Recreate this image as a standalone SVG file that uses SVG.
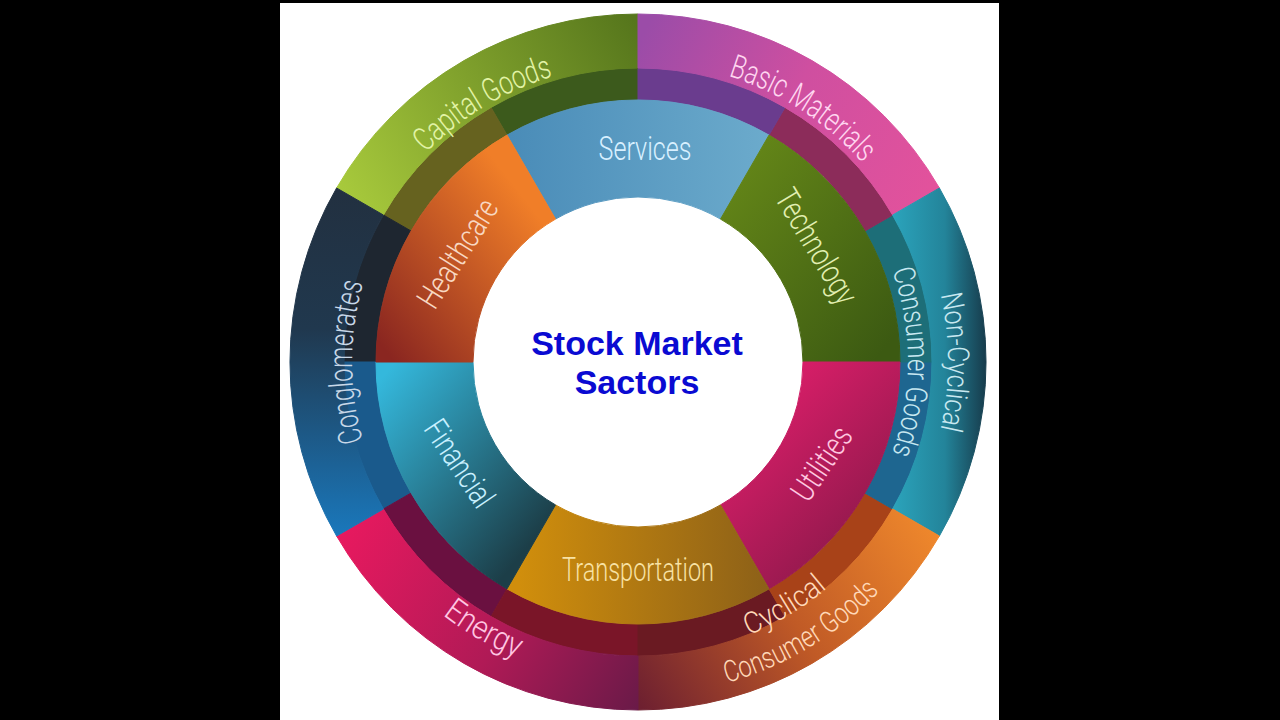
<svg xmlns="http://www.w3.org/2000/svg" width="1280" height="720" viewBox="0 0 1280 720">
<style>
  .lbl{font-family:Roboto,"Liberation Sans",Arial,sans-serif;font-weight:300;font-size:33px;text-anchor:middle;}
  .lbl2{font-family:Roboto,"Liberation Sans",Arial,sans-serif;font-weight:300;font-size:30px;text-anchor:middle;}
  .title{font-family:"Liberation Sans",Arial,sans-serif;font-weight:bold;font-size:34px;fill:#0a0ad2;text-anchor:middle;}
  .seg{stroke-width:1;stroke-linejoin:round;}
</style>
<defs>
  <linearGradient id="gCap" gradientUnits="userSpaceOnUse" x1="350" y1="210" x2="640" y2="30"><stop offset="0" stop-color="#a8ca3c"/><stop offset="1" stop-color="#56761c"/></linearGradient>
  <linearGradient id="gBasic" gradientUnits="userSpaceOnUse" x1="640" y1="40" x2="930" y2="190"><stop offset="0" stop-color="#9b4ca8"/><stop offset="0.5" stop-color="#cf4fa0"/><stop offset="1" stop-color="#e2529c"/></linearGradient>
  <linearGradient id="gNon" gradientUnits="userSpaceOnUse" x1="892" y1="0" x2="988" y2="0"><stop offset="0" stop-color="#2ba4bc"/><stop offset="0.55" stop-color="#23849a"/><stop offset="1" stop-color="#163848"/></linearGradient>
  <linearGradient id="gCyc" gradientUnits="userSpaceOnUse" x1="935" y1="520" x2="640" y2="705"><stop offset="0" stop-color="#f0892c"/><stop offset="0.5" stop-color="#c05a26"/><stop offset="1" stop-color="#6e2030"/></linearGradient>
  <linearGradient id="gEn" gradientUnits="userSpaceOnUse" x1="340" y1="530" x2="640" y2="705"><stop offset="0" stop-color="#e8195f"/><stop offset="0.55" stop-color="#b01a56"/><stop offset="1" stop-color="#6a1a48"/></linearGradient>
  <linearGradient id="gCong" gradientUnits="userSpaceOnUse" x1="0" y1="190" x2="0" y2="536"><stop offset="0" stop-color="#223040"/><stop offset="0.4" stop-color="#20384e"/><stop offset="1" stop-color="#1a78bc"/></linearGradient>
  <linearGradient id="gServ" gradientUnits="userSpaceOnUse" x1="510" y1="0" x2="770" y2="0"><stop offset="0" stop-color="#4a8cb8"/><stop offset="1" stop-color="#6cabcc"/></linearGradient>
  <linearGradient id="gTech" gradientUnits="userSpaceOnUse" x1="720" y1="180" x2="900" y2="330"><stop offset="0" stop-color="#648618"/><stop offset="1" stop-color="#3c5a12"/></linearGradient>
  <linearGradient id="gUtil" gradientUnits="userSpaceOnUse" x1="760" y1="400" x2="900" y2="540"><stop offset="0" stop-color="#d81e68"/><stop offset="1" stop-color="#861848"/></linearGradient>
  <linearGradient id="gTrans" gradientUnits="userSpaceOnUse" x1="520" y1="0" x2="770" y2="0"><stop offset="0" stop-color="#d08e0c"/><stop offset="1" stop-color="#8c6018"/></linearGradient>
  <linearGradient id="gFin" gradientUnits="userSpaceOnUse" x1="380" y1="380" x2="550" y2="520"><stop offset="0" stop-color="#34b8dc"/><stop offset="1" stop-color="#1c3e48"/></linearGradient>
  <linearGradient id="gHealth" gradientUnits="userSpaceOnUse" x1="545" y1="225" x2="385" y2="350"><stop offset="0" stop-color="#f07e28"/><stop offset="1" stop-color="#8a2620"/></linearGradient>
  <path id="pCap" d="M 348.9 289.9 A 298 298 0 0 1 710.1 72.9"/>
  <path id="pBasic" d="M 575.6 68.6 A 300 300 0 0 1 931.4 299.6"/>
  <path id="pCong" d="M 435.8 564.2 A 286 286 0 0 1 435.8 159.8"/>
  <path id="pNon1" d="M 857.2 142.8 A 310 310 0 0 1 857.2 581.2"/>
  <path id="pNon2" d="M 828.9 171.1 A 270 270 0 0 1 828.9 552.9"/>
  <path id="pEn" d="M 328.9 444.8 A 321 321 0 0 0 720.8 671.1"/>
  <path id="pCyc1" d="M 566.6 648.2 A 295 295 0 0 0 924.2 433.4"/>
  <path id="pCyc2" d="M 557.4 685.1 A 333 333 0 0 0 961.1 442.6"/>
</defs>

<rect width="1280" height="720" fill="#000"/>
<rect x="280" y="3" width="719" height="717" fill="#fff"/>

<g id="overlap-band" class="seg">
  <path d="M 491 107.4 A 294 294 0 0 1 638 68 L 638 100 A 262 262 0 0 0 507 135.1 Z" fill="#3c5a1c" stroke="#3c5a1c"/>
  <path d="M 383.4 215 A 294 294 0 0 1 491 107.4 L 507 135.1 A 262 262 0 0 0 411.1 231 Z" fill="#66621f" stroke="#66621f"/>
  <path d="M 344 362 A 294 294 0 0 1 383.4 215 L 411.1 231 A 262 262 0 0 0 376 362 Z" fill="#1e2630" stroke="#1e2630"/>
  <path d="M 383.4 509 A 294 294 0 0 1 344 362 L 376 362 A 262 262 0 0 0 411.1 493 Z" fill="#1a5a8c" stroke="#1a5a8c"/>
  <path d="M 491 616.6 A 294 294 0 0 1 383.4 509 L 411.1 493 A 262 262 0 0 0 507 588.9 Z" fill="#6a1040" stroke="#6a1040"/>
  <path d="M 638 656 A 294 294 0 0 1 491 616.6 L 507 588.9 A 262 262 0 0 0 638 624 Z" fill="#7a1528" stroke="#7a1528"/>
  <path d="M 785 616.6 A 294 294 0 0 1 638 656 L 638 624 A 262 262 0 0 0 769 588.9 Z" fill="#6a1a22" stroke="#6a1a22"/>
  <path d="M 892.6 509 A 294 294 0 0 1 785 616.6 L 769 588.9 A 262 262 0 0 0 864.9 493 Z" fill="#a84218" stroke="#a84218"/>
  <path d="M 932 362 A 294 294 0 0 1 892.6 509 L 864.9 493 A 262 262 0 0 0 900 362 Z" fill="#1e6690" stroke="#1e6690"/>
  <path d="M 892.6 215 A 294 294 0 0 1 932 362 L 900 362 A 262 262 0 0 0 864.9 231 Z" fill="#1d6e78" stroke="#1d6e78"/>
  <path d="M 785 107.4 A 294 294 0 0 1 892.6 215 L 864.9 231 A 262 262 0 0 0 769 135.1 Z" fill="#8c2c5a" stroke="#8c2c5a"/>
  <path d="M 638 68 A 294 294 0 0 1 785 107.4 L 769 135.1 A 262 262 0 0 0 638 100 Z" fill="#6a3c8e" stroke="#6a3c8e"/>
</g>

<g id="capital-goods">
  <path class="seg" d="M 336.6 188 A 348 348 0 0 1 638 14 L 638 68 A 294 294 0 0 0 383.4 215 Z" fill="url(#gCap)" stroke="url(#gCap)"/>
  <text class="lbl" fill="#e2f3a6"><textPath href="#pCap" startOffset="50%" textLength="150" lengthAdjust="spacingAndGlyphs">Capital Goods</textPath></text>
</g>
<g id="basic-materials">
  <path class="seg" d="M 638 14 A 348 348 0 0 1 939.4 188 L 892.6 215 A 294 294 0 0 0 638 68 Z" fill="url(#gBasic)" stroke="url(#gBasic)"/>
  <text class="lbl" fill="#ffd6f0"><textPath href="#pBasic" startOffset="50%" textLength="162" lengthAdjust="spacingAndGlyphs">Basic Materials</textPath></text>
</g>
<g id="non-cyclical-consumer-goods">
  <path class="seg" d="M 939.4 188 A 348 348 0 0 1 939.4 536 L 892.6 509 A 294 294 0 0 0 892.6 215 Z" fill="url(#gNon)" stroke="url(#gNon)"/>
  <text class="lbl2" fill="#c8e8f0"><textPath href="#pNon1" startOffset="50%" textLength="136" lengthAdjust="spacingAndGlyphs">Non-Cyclical</textPath></text>
  <text class="lbl2" fill="#c8e8f0"><textPath href="#pNon2" startOffset="50%" textLength="186" lengthAdjust="spacingAndGlyphs">Consumer Goods</textPath></text>
</g>
<g id="cyclical-consumer-goods">
  <path class="seg" d="M 939.4 536 A 348 348 0 0 1 638 710 L 638 656 A 294 294 0 0 0 892.6 509 Z" fill="url(#gCyc)" stroke="url(#gCyc)"/>
  <text class="lbl2" fill="#ffd8b8"><textPath href="#pCyc1" startOffset="50%" textLength="92" lengthAdjust="spacingAndGlyphs">Cyclical</textPath></text>
  <text class="lbl2" fill="#ffd8b8"><textPath href="#pCyc2" startOffset="50%" textLength="180" lengthAdjust="spacingAndGlyphs">Consumer Goods</textPath></text>
</g>
<g id="energy">
  <path class="seg" d="M 638 710 A 348 348 0 0 1 336.6 536 L 383.4 509 A 294 294 0 0 0 638 656 Z" fill="url(#gEn)" stroke="url(#gEn)"/>
  <text class="lbl" fill="#ffc6e2"><textPath href="#pEn" startOffset="50%" textLength="86" lengthAdjust="spacingAndGlyphs">Energy</textPath></text>
</g>
<g id="conglomerates">
  <path class="seg" d="M 336.6 536 A 348 348 0 0 1 336.6 188 L 383.4 215 A 294 294 0 0 0 383.4 509 Z" fill="url(#gCong)" stroke="url(#gCong)"/>
  <text class="lbl" fill="#c8d8e8"><textPath href="#pCong" startOffset="50%" textLength="160" lengthAdjust="spacingAndGlyphs">Conglomerates</textPath></text>
</g>

<g id="services">
  <path class="seg" d="M 507 135.1 A 262 262 0 0 1 769 135.1 L 720.5 219.1 A 165 165 0 0 0 555.5 219.1 Z" fill="url(#gServ)" stroke="url(#gServ)"/>
  <text class="lbl" fill="#d8f0ff" x="645" y="160" textLength="93" lengthAdjust="spacingAndGlyphs">Services</text>
</g>
<g id="technology">
  <path class="seg" d="M 769 135.1 A 262 262 0 0 1 900 362 L 803 362 A 165 165 0 0 0 720.5 219.1 Z" fill="url(#gTech)" stroke="url(#gTech)"/>
  <text class="lbl" fill="#e2efb2" transform="translate(817 246) rotate(59)" x="0" y="12" textLength="128" lengthAdjust="spacingAndGlyphs">Technology</text>
</g>
<g id="utilities">
  <path class="seg" d="M 900 362 A 262 262 0 0 1 769 588.9 L 720.5 504.9 A 165 165 0 0 0 803 362 Z" fill="url(#gUtil)" stroke="url(#gUtil)"/>
  <text class="lbl" fill="#ffc8e0" transform="translate(821 463) rotate(-56)" x="0" y="12" textLength="82" lengthAdjust="spacingAndGlyphs">Utilities</text>
</g>
<g id="transportation">
  <path class="seg" d="M 769 588.9 A 262 262 0 0 1 507 588.9 L 555.5 504.9 A 165 165 0 0 0 720.5 504.9 Z" fill="url(#gTrans)" stroke="url(#gTrans)"/>
  <text class="lbl" fill="#f8e2a4" x="638" y="581" textLength="152" lengthAdjust="spacingAndGlyphs">Transportation</text>
</g>
<g id="financial">
  <path class="seg" d="M 507 588.9 A 262 262 0 0 1 376 362 L 473 362 A 165 165 0 0 0 555.5 504.9 Z" fill="url(#gFin)" stroke="url(#gFin)"/>
  <text class="lbl" fill="#c8f0ff" transform="translate(460 463) rotate(56)" x="0" y="12" textLength="98" lengthAdjust="spacingAndGlyphs">Financial</text>
</g>
<g id="healthcare">
  <path class="seg" d="M 376 362 A 262 262 0 0 1 507 135.1 L 555.5 219.1 A 165 165 0 0 0 473 362 Z" fill="url(#gHealth)" stroke="url(#gHealth)"/>
  <text class="lbl" fill="#f8d8c2" transform="translate(457 253) rotate(-58)" x="0" y="12" textLength="122" lengthAdjust="spacingAndGlyphs">Healthcare</text>
</g>

<g id="center-title">
  <text class="title" x="637" y="355">Stock Market</text>
  <text class="title" x="637" y="394">Sactors</text>
</g>
<g id="connectors"/>
</svg>
